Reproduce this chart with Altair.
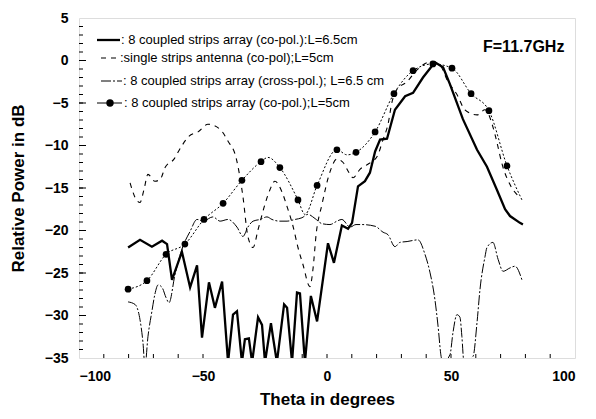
import altair as alt
import pandas as pd

# ---- data ----
theta_a = [-80.2, -75.4, -70.6, -66.5, -64.5, -62.5, -58.5, -55.2, -52.4, -50.4, -47.6, -45.2, -42.3,
           -39.9, -37.9, -36.3, -34.3, -33.1, -31.5, -30.2, -27.8, -26.2, -25.0, -22.6, -21.8, -20.2,
           -17.3, -16.1, -14.1, -12.1, -10.9, -8.9, -6.5, -4.0, 0.4, 2.8, 6.0, 8.5, 10.1, 12.5, 15.3,
           17.3, 19.4, 21.4, 24.2, 27.4, 31.5, 34.7, 38.7, 43.5, 46.8, 49.6, 54.8, 60.5, 64.5, 68.5,
           71.8, 73.8, 77.8, 79.0]
db_a = [-22.0, -21.1, -21.9, -21.2, -21.6, -25.8, -22.5, -26.7, -24.1, -32.6, -26.1, -29.1, -26.0,
        -35.5, -29.9, -29.5, -35.5, -32.8, -32.7, -35.5, -30.2, -31.1, -35.5, -30.9, -32.5, -35.5,
        -28.7, -29.1, -35.5, -27.3, -27.4, -35.5, -27.7, -30.7, -21.5, -23.8, -19.4, -19.8, -19.1,
        -14.8, -14.2, -13.2, -10.7, -9.3, -9.2, -5.8, -4.2, -3.8, -2.0, -0.2, -0.8, -2.8, -6.9,
        -10.5, -12.5, -15.2, -17.5, -18.3, -19.1, -19.3]

theta_b = [-79.4, -77.4, -75.4, -73.8, -72.2, -69.4, -67.3, -65.3, -61.7, -58.9, -55.6, -52.0, -48.0,
           -43.1, -39.9, -36.7, -33.9, -31.9, -29.8, -27.8, -25.0, -23.0, -21.0, -18.1, -16.1, -13.7,
           -11.7, -9.7, -6.9, -5.6, -4.4, -2.0, 1.2, 4.0, 6.5, 8.9, 10.5, 13.3, 16.5, 20.2, 22.6, 24.6,
           26.2, 28.2, 32.3, 36.3, 41.5, 45.6, 48.8, 52.4, 55.6, 60.5, 63.7, 66.9, 68.5, 70.6, 73.8, 77.8]
db_b = [-14.4, -16.1, -16.7, -15.2, -13.4, -14.2, -14.0, -12.6, -11.6, -10.2, -8.9, -8.4, -7.5,
        -8.1, -9.5, -11.4, -16.0, -20.7, -22.0, -19.9, -16.9, -15.2, -14.2, -15.5, -17.2, -19.5,
        -22.0, -24.0, -26.6, -24.4, -20.5, -16.9, -13.1, -11.6, -12.0, -13.2, -13.8, -12.8, -12.2,
        -11.3, -9.3, -7.5, -4.9, -3.4, -2.5, -1.1, -0.2, -0.6, -2.5, -4.0, -5.8, -6.4, -5.8, -7.8,
        -9.6, -12.2, -14.6, -16.1]

theta_c = [-80.2, -77.4, -75.4, -74.2, -73.4, -72.2, -70.6, -69.4, -68.1, -66.5, -64.9, -63.7, -61.3,
           -58.5, -55.2, -52.4, -50.0, -46.0, -43.1, -39.9, -36.3, -33.9, -31.9, -29.8, -27.0, -24.2,
           -22.2, -19.0, -16.1, -12.9, -10.1, -7.7, -4.8, -2.0, 1.2, 4.0, 6.0, 9.3, 11.7, 14.1, 19.4,
           22.6, 24.6, 27.4, 29.4, 32.3, 36.7, 39.5, 41.5, 43.5, 44.8, 46.0, 46.8, 49.6, 50.8, 52.4,
           53.6, 54.4, 55.2, 58.9, 60.5, 61.7, 63.7, 64.5, 66.9, 69.0, 71.0, 73.8, 75.8, 78.6]
db_c = [-28.4, -28.7, -30.5, -33.2, -36.0, -32.5, -29.5, -27.5, -26.4, -26.7, -27.9, -28.5, -25.2,
        -22.2, -20.1, -18.7, -18.9, -18.4, -18.9, -18.7, -19.6, -20.7, -19.6, -18.9, -18.7, -18.4,
        -18.7, -18.9, -18.9, -18.7, -18.5, -18.1, -18.6, -19.2, -19.3, -18.9, -18.7, -19.6, -19.3,
        -19.3, -19.5, -20.2, -20.5, -21.9, -21.4, -21.3, -21.1, -22.8, -24.9, -28.1, -31.3, -34.8,
        -35.5, -34.6, -32.0, -29.9, -30.2, -32.5, -35.4, -34.8, -30.8, -26.9, -23.1, -22.0, -21.4,
        -23.4, -24.8, -24.4, -24.2, -25.8]

# co-pol L=5cm: measured points (circles) and the line through them
theta_d = [-80.2, -72.6, -64.9, -57.3, -49.6, -41.9, -34.3, -26.6, -19.0, -11.7, -4.0, 4.0, 11.7,
           19.4, 27.0, 34.7, 42.7, 50.4, 58.1, 65.3, 72.6]
db_d = [-26.9, -25.9, -22.8, -21.6, -18.7, -16.8, -14.1, -11.9, -12.6, -16.4, -14.7, -10.5, -10.8,
        -8.4, -3.9, -1.2, -0.4, -0.9, -3.9, -5.9, -12.4]
theta_d_line = [-80.2, -72.6, -64.9, -57.3, -49.6, -41.9, -34.3, -26.6, -23.8, -19.0, -11.7, -8.9,
                -4.0, 4.0, 8.1, 11.7, 19.4, 27.0, 34.7, 42.7, 50.4, 58.1, 65.3, 72.6, 78.6]
db_d_line = [-26.9, -25.9, -22.8, -21.6, -18.7, -16.8, -14.1, -11.9, -11.4, -12.6, -16.4, -18.1,
             -14.7, -10.5, -11.1, -10.8, -8.4, -3.9, -1.2, -0.4, -0.9, -3.9, -5.9, -12.4, -16.4]

legend_labels = [": 8 coupled strips array (co-pol.):L=6.5cm",
                 ":single strips antenna (co-pol);L=5cm",
                 ": 8 coupled strips array  (cross-pol.); L=6.5 cm",
                 ": 8 coupled strips array (co-pol.);L=5cm"]
freq_label = "F=11.7GHz"
x_tick_values = [-100, -50, 0, 50, 100]
y_tick_values = [-35, -30, -25, -20, -15, -10, -5, 0, 5]
x_minor = list(range(-90, 100, 10))
y_minor = list(range(-34, 5, 1))
y_major = [-30, -25, -20, -15, -10, -5, 0]

FONT = "Liberation Sans"
W, H = 496, 340

xenc = alt.X("theta:Q",
             scale=alt.Scale(domain=[-100, 100], nice=False, zero=False),
             axis=alt.Axis(values=x_tick_values, format="d", ticks=False, domain=False, grid=False,
                           labelFont=FONT, labelFontSize=14, labelFontWeight="bold", labelColor="black",
                           labelPadding=11, title="Theta in degrees", titleFont=FONT, titleFontSize=17,
                           titleFontWeight="bold", titleColor="black", titlePadding=8))
yenc = alt.Y("db:Q",
             scale=alt.Scale(domain=[-35, 5], nice=False, zero=False),
             axis=alt.Axis(values=y_tick_values, format="d", ticks=False, domain=False, grid=False,
                           labelFont=FONT, labelFontSize=14, labelFontWeight="bold", labelColor="black",
                           labelPadding=11, title="Relative Power in dB", titleFont=FONT, titleFontSize=17,
                           titleFontWeight="bold", titleColor="black", titlePadding=17))


def df(x, y):
    return pd.DataFrame({"theta": x, "db": y})


solid = alt.Chart(df(theta_a, db_a)).mark_line(color="black", strokeWidth=2.3, clip=True).encode(
    x=xenc, y=yenc, order="theta:Q")
dashed = alt.Chart(df(theta_b, db_b)).mark_line(color="black", strokeWidth=1.1, strokeDash=[5, 5],
                                                interpolate="monotone", clip=True).encode(
    x=xenc, y=yenc, order="theta:Q")
cross = alt.Chart(df(theta_c, db_c)).mark_line(color="black", strokeWidth=1.0, strokeDash=[10, 2, 2, 2],
                                               interpolate="monotone", clip=True).encode(
    x=xenc, y=yenc, order="theta:Q")
dotted = alt.Chart(df(theta_d_line, db_d_line)).mark_line(color="black", strokeWidth=1.0,
                                                          strokeDash=[2, 2], interpolate="monotone",
                                                          clip=True).encode(
    x=xenc, y=yenc, order="theta:Q")
circles = alt.Chart(df(theta_d, db_d)).mark_circle(color="black", size=45, opacity=1).encode(x=xenc, y=yenc)

xticks = alt.Chart(pd.DataFrame({"theta": x_minor})).mark_rule(color="black", strokeWidth=1).encode(
    x=xenc, y=alt.value(H), y2=alt.value(H - 4))
yticks = alt.Chart(pd.DataFrame({"db": y_minor})).mark_rule(color="black", strokeWidth=1).encode(
    y=yenc, x=alt.value(0), x2=alt.value(4))
yticks_major = alt.Chart(pd.DataFrame({"db": y_major})).mark_rule(color="black", strokeWidth=1).encode(
    y=yenc, x=alt.value(0), x2=alt.value(7))

# legend (manual, drawn inside the plot area)
rows_y = [22, 40, 63, 85]
text_x = [42, 41, 44, 45]
leg = []
for i, lab in enumerate(legend_labels):
    leg.append(alt.Chart(pd.DataFrame({"t": [lab]})).mark_text(
        align="left", baseline="middle", font=FONT, fontSize=13, color="black").encode(
        text="t:N", x=alt.value(text_x[i]), y=alt.value(rows_y[i])))
sym_df = pd.DataFrame({"t": ["s"]})
leg.append(alt.Chart(sym_df).mark_rule(color="black", strokeWidth=2.3).encode(
    x=alt.value(18), x2=alt.value(41), y=alt.value(rows_y[0])))
leg.append(alt.Chart(sym_df).mark_rule(color="black", strokeWidth=1.1, strokeDash=[5, 5]).encode(
    x=alt.value(22), x2=alt.value(39), y=alt.value(rows_y[1])))
leg.append(alt.Chart(sym_df).mark_rule(color="black", strokeWidth=1.0, strokeDash=[10, 2, 2, 2]).encode(
    x=alt.value(22), x2=alt.value(43), y=alt.value(rows_y[2])))
leg.append(alt.Chart(sym_df).mark_rule(color="black", strokeWidth=1.0).encode(
    x=alt.value(18), x2=alt.value(43), y=alt.value(rows_y[3])))
leg.append(alt.Chart(sym_df).mark_circle(color="black", size=55, opacity=1).encode(
    x=alt.value(31), y=alt.value(rows_y[3])))
leg.append(alt.Chart(pd.DataFrame({"t": [freq_label]})).mark_text(
    align="left", baseline="middle", font=FONT, fontSize=16, fontWeight="bold", color="black").encode(
    text="t:N", x=alt.value(404), y=alt.value(29)))

chart = alt.layer(solid, dashed, cross, dotted, circles, xticks, yticks, yticks_major, *leg).properties(
    width=W, height=H,
    autosize=alt.AutoSizeParams(type="none"),
    padding={"left": 71, "top": 10, "right": 13, "bottom": 53},
).configure_view(stroke="black", strokeWidth=2).configure(background="white")

chart.save("out.html", embed_options={"renderer": "svg", "actions": False})
